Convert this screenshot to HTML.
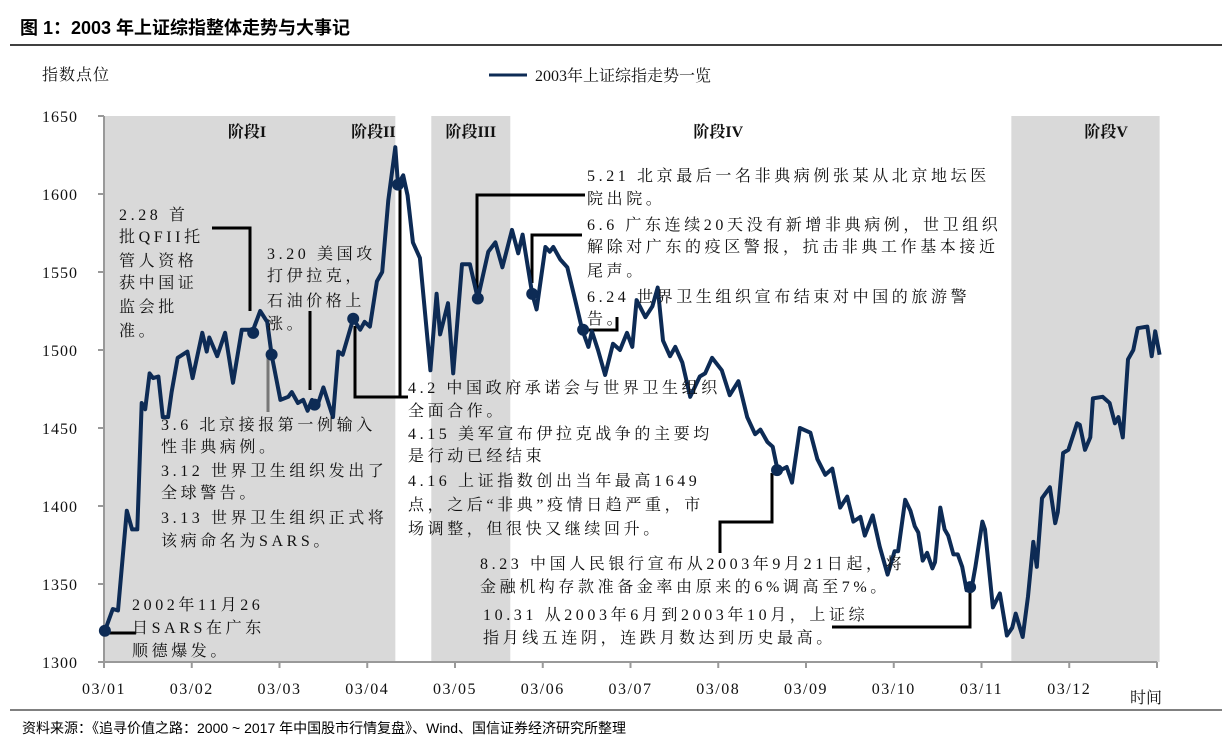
<!DOCTYPE html>
<html><head><meta charset="utf-8"><style>
body{margin:0;background:#fff;width:1229px;height:746px;overflow:hidden}
svg{display:block}
.t{font-family:"Liberation Serif","Noto Serif CJK SC",serif;font-size:16px;letter-spacing:3.6px;fill:#111}
.s{font-family:"Liberation Serif","Noto Serif CJK SC",serif;font-size:16px;fill:#111}
</style></head><body>
<svg id="c" width="1229" height="746">
<text x="20" y="34" style="font-family:'Liberation Sans','Noto Sans CJK SC',sans-serif;font-weight:bold;font-size:18px">图 1：2003 年上证综指整体走势与大事记</text>
<line x1="10" y1="45" x2="1222" y2="45" stroke="#000" stroke-width="1.5"/>
<text x="42" y="80" class="s" letter-spacing="1">指数点位</text>
<g><line x1="489" y1="75" x2="527" y2="75" stroke="#0d2b55" stroke-width="3"/><text x="535" y="81" class="s">2003年上证综指走势一览</text></g>
<g id="bands"></g>
<g id="axes"></g>
<g id="callouts" stroke="#000" stroke-width="3" fill="none"></g>
<path id="line" fill="none" stroke="#0d2b55" stroke-width="4" stroke-linejoin="round"/>
<g id="dots"></g>
<g id="notes"></g>
<text x="1130" y="703" class="s">时间</text>
<line x1="10" y1="710" x2="1222" y2="710" stroke="#000" stroke-width="1"/>
<text x="22" y="733" style="font-family:'Liberation Sans','Noto Sans CJK SC',sans-serif;font-size:14px">资料来源：《追寻价值之路：2000 ~ 2017 年中国股市行情复盘》、Wind、国信证券经济研究所整理</text>
</svg>
<script>
const monthPos=[0.01,0.10,0.16,0.26,0.32,0.38,0.43,0.47,0.52,0.56,0.62,0.67,0.73,0.77,0.84,0.95,1.01,1.12,1.17,1.20,1.29,1.38,1.47,1.57,1.70,1.78,1.86,1.91,2.01,2.10,2.14,2.21,2.27,2.32,2.37,2.43,2.50,2.61,2.67,2.72,2.84,2.92,2.97,3.03,3.11,3.17,3.24,3.32,3.35,3.41,3.46,3.52,3.60,3.72,3.79,3.83,3.92,3.98,4.08,4.17,4.26,4.38,4.46,4.54,4.65,4.72,4.77,4.88,4.93,5.03,5.08,5.12,5.20,5.28,5.37,5.45,5.52,5.56,5.63,5.71,5.80,5.88,5.96,6.02,6.07,6.17,6.25,6.31,6.37,6.45,6.51,6.59,6.68,6.79,6.85,6.93,7.04,7.13,7.23,7.33,7.42,7.48,7.56,7.62,7.68,7.78,7.84,7.93,8.05,8.13,8.22,8.30,8.39,8.47,8.54,8.62,8.67,8.76,8.84,8.93,9.01,9.05,9.13,9.19,9.24,9.28,9.33,9.38,9.44,9.47,9.53,9.58,9.62,9.68,9.73,9.78,9.83,9.89,9.93,10.01,10.04,10.13,10.21,10.29,10.35,10.39,10.47,10.53,10.59,10.63,10.69,10.78,10.84,10.87,10.93,10.99,11.09,11.12,11.18,11.24,11.27,11.38,11.46,11.52,11.56,11.61,11.67,11.73,11.78,11.89,11.94,11.98,12.03];
const indexValues=[1320,1334,1333,1397,1385,1385,1466,1462,1485,1482,1483,1457,1457,1473,1495,1499,1482,1511,1499,1508,1496,1511,1479,1513,1513,1525,1518,1497,1468,1470,1473,1466,1468,1461,1468,1464,1476,1457,1499,1497,1520,1513,1518,1515,1544,1550,1596,1630,1606,1612,1599,1569,1559,1487,1536,1510,1530,1485,1555,1555,1533,1563,1569,1553,1577,1562,1574,1536,1526,1566,1563,1566,1558,1553,1532,1513,1502,1512,1500,1484,1504,1500,1511,1502,1532,1521,1528,1540,1506,1496,1502,1492,1470,1483,1485,1495,1487,1471,1480,1457,1446,1449,1441,1438,1422,1425,1415,1450,1447,1430,1420,1424,1399,1406,1390,1393,1381,1394,1374,1356,1371,1371,1404,1397,1387,1383,1365,1370,1360,1364,1399,1385,1381,1369,1369,1361,1346,1348,1361,1390,1385,1335,1344,1317,1322,1331,1316,1342,1377,1361,1405,1412,1389,1396,1434,1436,1453,1452,1436,1444,1469,1470,1466,1453,1457,1444,1494,1500,1514,1515,1496,1512,1497];
const eventPos=[0.01,1.70,1.91,2.40,2.84,3.35,4.26,4.88,5.46,7.67,9.87];
const eventValues=[1320,1511,1497,1465,1520,1606,1533,1536,1513,1423,1348];
const yTicks=[1300,1350,1400,1450,1500,1550,1600,1650];
const xLabels=['03/01','03/02','03/03','03/04','03/05','03/06','03/07','03/08','03/09','03/10','03/11','03/12'];
const stageStart=[0,3.73,10.34];
const stageEnd=[3.32,4.63,12.03];
const stageNames=['阶段I','阶段II','阶段III','阶段IV','阶段V'];
const stageLabelPos=[1.63,3.07,4.18,7.0,11.42];

const X=t=>104+t*87.75, Y=v=>662-(v-1300)*546/350;
const NS='http://www.w3.org/2000/svg';
function mk(tag,attrs,parent,txt){const e=document.createElementNS(NS,tag);for(const k in attrs)e.setAttribute(k,attrs[k]);if(txt!=null)e.textContent=txt;parent.appendChild(e);return e;}
const bands=document.getElementById('bands');
stageStart.forEach((s,i)=>{const r=mk('rect',{x:X(s),y:Y(1650),width:X(stageEnd[i])-X(s),height:Y(1300)-Y(1650),fill:'#d9d9d9'},bands);

});
stageNames.forEach((n,i)=>{const t=mk('text',{x:X(stageLabelPos[i]),y:137,'text-anchor':'middle',class:'s','font-weight':'bold','font-size':'17'},bands,n);

});
const ax=document.getElementById('axes');
mk('line',{x1:104,y1:Y(1650),x2:104,y2:662,stroke:'#999','stroke-width':2},ax);
mk('line',{x1:104,y1:662,x2:X(12),y2:662,stroke:'#999','stroke-width':2},ax);
yTicks.forEach(v=>{mk('line',{x1:98,y1:Y(v),x2:104,y2:Y(v),stroke:'#999','stroke-width':2},ax);
const t=mk('text',{x:78,y:Y(v)+6,'text-anchor':'end',class:'s','letter-spacing':'1'},ax,v);

});
for(let i=0;i<=12;i++)mk('line',{x1:X(i),y1:662,x2:X(i),y2:668,stroke:'#999','stroke-width':2},ax);
xLabels.forEach((l,i)=>{const t=mk('text',{x:X(i),y:694,'text-anchor':'middle',class:'s','letter-spacing':'1.5'},ax,l);

});
document.getElementById('line').setAttribute('d',monthPos.map((t,i)=>(i?'L':'M')+X(t).toFixed(1)+','+Y(indexValues[i]).toFixed(1)).join(''));
const dots=document.getElementById('dots');
eventPos.forEach((t,i)=>{const c=mk('circle',{cx:X(t),cy:Y(eventValues[i]),r:6,fill:'#0d2b55'},dots);

});
const co=document.getElementById('callouts');
['M105,633H136','M212,228H250V311','M355,326V397H408','M400,185V397','M477,290V195H585','M532,283V235H582','M588,330H617V317','M720,553V522H772V473','M832,627H970V590'].forEach(d=>{mk('path',{d},co);});
mk('path',{d:'M268,355V412',stroke:'#777'},co);
mk('path',{d:'M310,311V390'},co);
const notes=document.getElementById('notes');
const blocks=[[119,[220,242,266,288,312,336],['2.28 首','批QFII托','管人资格','获中国证','监会批','准。']],
[267,[259,281,306,329],['3.20 美国攻','打伊拉克，','石油价格上','涨。']],
[161,[430,452,476,498,523,546],['3.6 北京接报第一例输入','性非典病例。','3.12 世界卫生组织发出了','全球警告。','3.13 世界卫生组织正式将','该病命名为SARS。']],
[132,[610,633,656],['2002年11月26','日SARS在广东','顺德爆发。']],
[408,[393,416,439,461,486,510,534],['4.2 中国政府承诺会与世界卫生组织','全面合作。','4.15 美军宣布伊拉克战争的主要均','是行动已经结束','4.16 上证指数创出当年最高1649','点，之后“非典”疫情日趋严重，市','场调整，但很快又继续回升。']],
[587,[181,204,230,252,276,302,324],['5.21 北京最后一名非典病例张某从北京地坛医','院出院。','6.6 广东连续20天没有新增非典病例，世卫组织','解除对广东的疫区警报，抗击非典工作基本接近','尾声。','6.24 世界卫生组织宣布结束对中国的旅游警','告。']],
[480,[569,592],['8.23 中国人民银行宣布从2003年9月21日起，将','金融机构存款准备金率由原来的6%调高至7%。']],
[483,[620,643],['10.31 从2003年6月到2003年10月，上证综','指月线五连阴，连跌月数达到历史最高。']]];
blocks.forEach(b=>{const g=mk('g',{},notes);


b[2].forEach((s,i)=>mk('text',{x:b[0],y:b[1][i],class:'t'},g,s));});
</script>
</body></html>
